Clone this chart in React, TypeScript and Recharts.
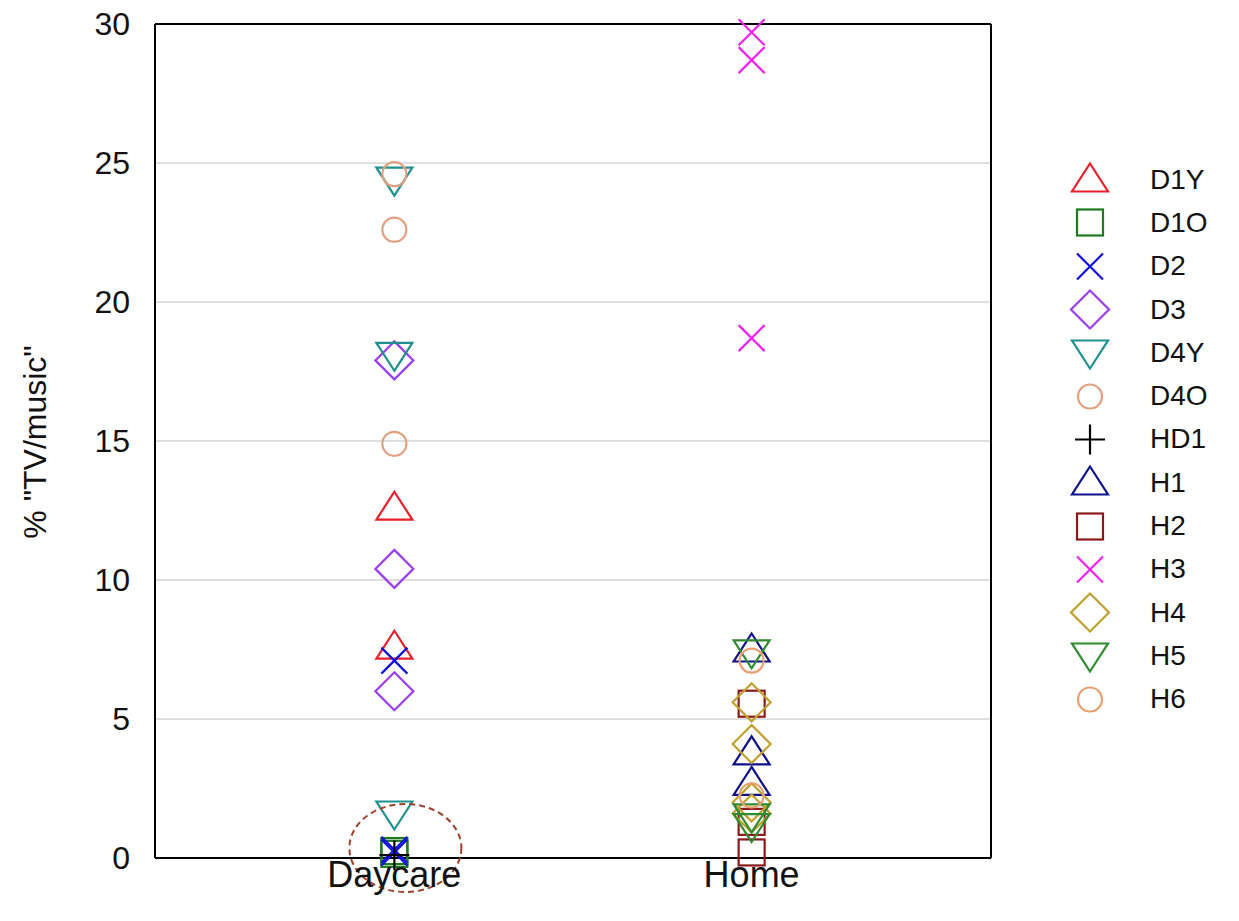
import React from 'react';
import {
  ScatterChart,
  Scatter,
  XAxis,
  YAxis,
  CartesianGrid,
  Legend,
  ReferenceLine,
  ReferenceDot,
  Label,
} from 'recharts';

// categories on the x axis
const categories = ['Daycare', 'Home'];
const yTicks = [0, 5, 10, 15, 20, 25, 30];

// % "TV/music" per child
const d1y = [12.6, 7.6];
const d1o = [0.25, 0.15];
const d2 = [7.1, 0.3, 0.2];
const d3 = [17.9, 10.4, 6.0];
const d4y = [24.4, 18.1, 1.6];
const d4o = [24.6, 22.6, 14.9];
const hd1 = [0.1];
const h1 = [7.5, 3.8, 2.7];
const h2 = [5.55, 1.3, 0.2];
const h3 = [29.7, 28.7, 18.7];
const h4 = [5.6, 4.1, 2.0, 1.6];
const h5 = [7.4, 1.5, 1.15];
const h6 = [7.1, 2.25];

type ShapeKind = 'triUp' | 'triDown' | 'square' | 'circle' | 'diamond' | 'cross' | 'plus';

interface SeriesDef {
  name: string;
  cat: number;
  values: number[];
  color: string;
  shape: ShapeKind;
}

const series: SeriesDef[] = [
  { name: 'D1Y', cat: 0, values: d1y, color: '#e8202a', shape: 'triUp' },
  { name: 'D1O', cat: 0, values: d1o, color: '#1f7a1f', shape: 'square' },
  { name: 'D2', cat: 0, values: d2, color: '#1010e0', shape: 'cross' },
  { name: 'D3', cat: 0, values: d3, color: '#9a3ef0', shape: 'diamond' },
  { name: 'D4Y', cat: 0, values: d4y, color: '#1f8f8f', shape: 'triDown' },
  { name: 'D4O', cat: 0, values: d4o, color: '#e0a080', shape: 'circle' },
  { name: 'HD1', cat: 0, values: hd1, color: '#000000', shape: 'plus' },
  { name: 'H1', cat: 1, values: h1, color: '#10108a', shape: 'triUp' },
  { name: 'H2', cat: 1, values: h2, color: '#8a1a1a', shape: 'square' },
  { name: 'H3', cat: 1, values: h3, color: '#f020f0', shape: 'cross' },
  { name: 'H4', cat: 1, values: h4, color: '#c0a030', shape: 'diamond' },
  { name: 'H5', cat: 1, values: h5, color: '#2e8b2e', shape: 'triDown' },
  { name: 'H6', cat: 1, values: h6, color: '#e8a070', shape: 'circle' },
];

const FONT = '"Liberation Sans", Arial, sans-serif';

function Marker({ cx, cy, kind, color }: { cx: number; cy: number; kind: ShapeKind; color: string }) {
  const common = { fill: 'none', stroke: color, strokeWidth: 2.2 };
  switch (kind) {
    case 'triUp':
      return <path d={`M${cx},${cy - 16} L${cx + 18},${cy + 12} L${cx - 18},${cy + 12} Z`} {...common} />;
    case 'triDown':
      return <path d={`M${cx},${cy + 16} L${cx + 18},${cy - 12} L${cx - 18},${cy - 12} Z`} {...common} />;
    case 'square':
      return <rect x={cx - 13} y={cy - 13} width={26} height={26} {...common} />;
    case 'circle':
      return <circle cx={cx} cy={cy} r={12} {...common} />;
    case 'diamond':
      return <path d={`M${cx},${cy - 19} L${cx + 19},${cy} L${cx},${cy + 19} L${cx - 19},${cy} Z`} {...common} />;
    case 'cross':
      return <path d={`M${cx - 13},${cy - 13} L${cx + 13},${cy + 13} M${cx - 13},${cy + 13} L${cx + 13},${cy - 13}`} {...common} />;
    case 'plus':
      return <path d={`M${cx - 15},${cy} L${cx + 15},${cy} M${cx},${cy - 15} L${cx},${cy + 15}`} {...common} />;
  }
  return null;
}

function LegendContent() {
  return (
    <div style={{ fontFamily: FONT, fontSize: 28, color: '#111' }}>
      {series.map((s) => (
        <div key={s.name} style={{ display: 'flex', alignItems: 'center', height: 43.3 }}>
          <svg width={50} height={43} style={{ display: 'block' }}>
            <Marker cx={25} cy={21.5} kind={s.shape} color={s.color} />
          </svg>
          <span style={{ marginLeft: 35 }}>{s.name}</span>
        </div>
      ))}
    </div>
  );
}

export default function App() {
  return (
    <div style={{ position: 'absolute', left: 0, top: 0, background: '#fff' }}>
      <ScatterChart
        width={1239}
        height={921}
        margin={{ top: 24, right: 74, bottom: 0, left: 0 }}
      >
        <CartesianGrid vertical={false} stroke="#d4d4d4" strokeWidth={1.5} />
        <XAxis
          type="number"
          dataKey="x"
          domain={[0.33, 2.67]}
          ticks={[1, 2]}
          tickFormatter={(v: number) => categories[v - 1]}
          height={63}
          axisLine={{ stroke: '#000', strokeWidth: 2 }}
          tickLine={false}
          tickSize={0}
          tickMargin={3}
          tick={{ fontSize: 36, fill: '#111', fontFamily: FONT }}
        />
        <YAxis
          type="number"
          dataKey="y"
          domain={[0, 30]}
          ticks={yTicks}
          width={155}
          axisLine={{ stroke: '#000', strokeWidth: 2 }}
          tickLine={false}
          tickSize={0}
          tickMargin={25}
          tick={{ fontSize: 32, fill: '#111', fontFamily: FONT }}
        >
          <Label
            content={() => (
              <text
                x={46}
                y={442}
                transform="rotate(-90 46 442)"
                textAnchor="middle"
                style={{ fontSize: 32, fill: '#111', fontFamily: FONT }}
              >
                % "TV/music"
              </text>
            )}
          />
        </YAxis>
        <ReferenceLine y={30} stroke="#000" strokeWidth={2} />
        <ReferenceLine x={2.67} stroke="#000" strokeWidth={2} />
        {series.map((s) => (
          <Scatter
            key={s.name}
            name={s.name}
            data={s.values.map((v) => ({ x: s.cat + 1, y: v }))}
            isAnimationActive={false}
            shape={(p: any) => <Marker cx={p.cx} cy={p.cy} kind={s.shape} color={s.color} />}
          />
        ))}
        <ReferenceDot
          x={1}
          y={0.36}
          shape={(p: any) => (
            <ellipse
              cx={p.cx + 11}
              cy={p.cy}
              rx={56}
              ry={44}
              fill="none"
              stroke="#a0402a"
              strokeWidth={2}
              strokeDasharray="6 4"
            />
          )}
        />
        <Legend
          layout="vertical"
          align="right"
          verticalAlign="top"
          wrapperStyle={{ left: 1065, top: 158, width: 174 }}
          content={() => <LegendContent />}
        />
      </ScatterChart>
    </div>
  );
}
